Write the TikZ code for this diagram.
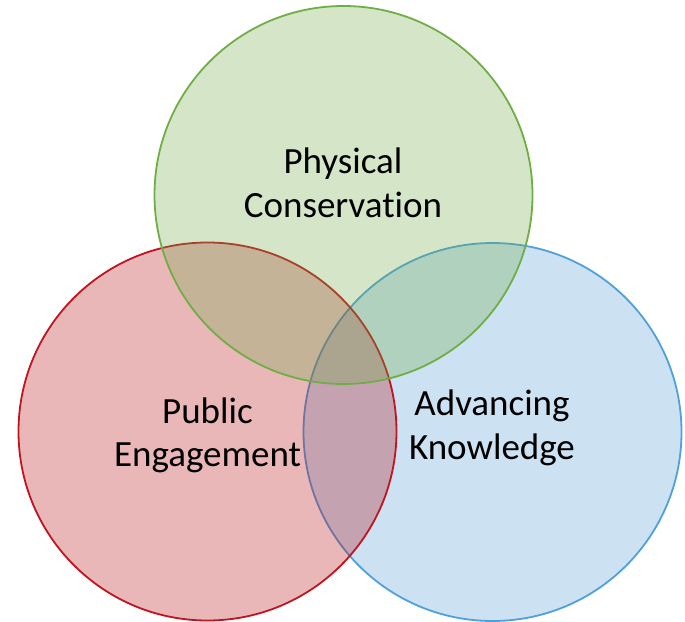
\documentclass[tikz,border=0pt]{standalone}
\usepackage{fontspec}
\setmainfont{Carlito}[Ligatures=NoCommon]
\definecolor{vgreen}{RGB}{112,173,71}
\definecolor{vred}{RGB}{184,16,24}
\definecolor{vblue}{RGB}{86,158,214}
\definecolor{vredline}{RGB}{192,20,30}
\definecolor{vblueline}{RGB}{80,160,220}
\begin{document}
\begin{tikzpicture}[x=1pt,y=-1pt,
  vcircle/.style={circle, minimum size=378pt, inner sep=0pt, line width=1.8pt, fill opacity=0.3, draw opacity=1},
  vtext/.style={font=\fontsize{37}{44}\selectfont, anchor=base, inner sep=0pt, text=black}]
\useasboundingbox (0,0) rectangle (685,621);
\node[vcircle, fill=vblue, draw=vblueline] (blue) at (492.5,432) {};
\node[vcircle, fill=vred, draw=vredline] (red) at (207.5,431.5) {};
\node[vcircle, fill=vgreen, draw=vgreen] (green) at (343.5,195) {};
\node[vtext] (pc1) at (343,173) {Physical};
\node[vtext] (pc2) at (343,217) {Conservation};
\node[vtext] (pe1) at (207.5,423) {Public};
\node[vtext] (pe2) at (207.5,466) {Engagement};
\node[vtext] (ak1) at (492,415) {Advancing};
\node[vtext] (ak2) at (492,459) {Knowledge};
\end{tikzpicture}
\end{document}
